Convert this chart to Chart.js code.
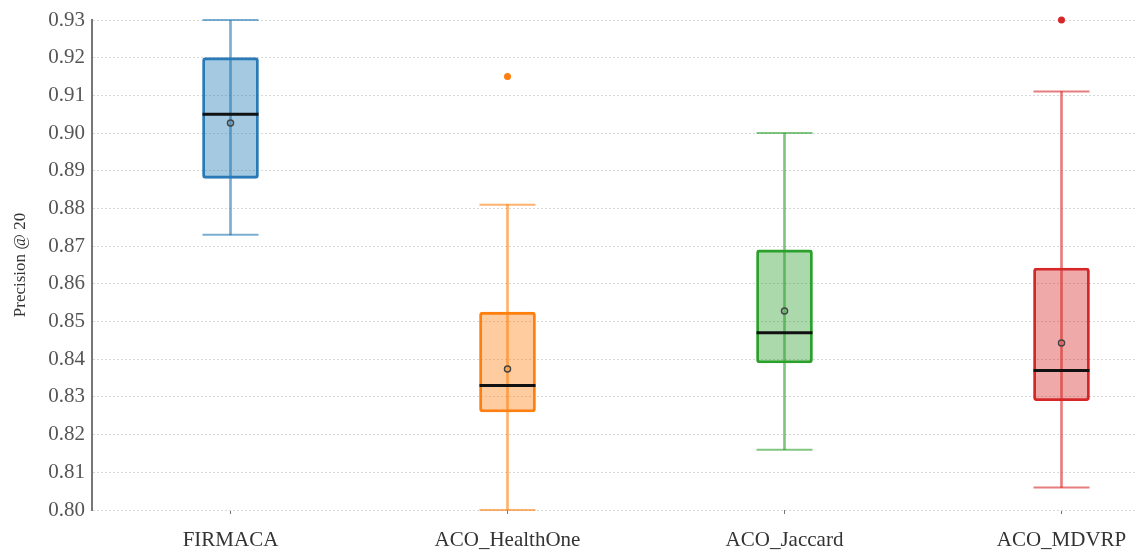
<!DOCTYPE html>
<html>
<head>
<meta charset="utf-8">
<script src="https://cdn.jsdelivr.net/npm/chart.js@4/dist/chart.umd.min.js"></script>
<style>
  html, body { margin: 0; padding: 0; background: #fff; overflow: hidden; }
  #wrap { width: 1200px; height: 558px; position: relative; }
</style>
</head>
<body>
<div id="wrap"><canvas id="boxChart"></canvas></div>
<script>
// Box plot summary per algorithm (Precision @ 20)
const categories = ['FIRMACA', 'ACO_HealthOne', 'ACO_Jaccard', 'ACO_MDVRP'];
const mins     = [0.873, 0.800, 0.816, 0.806];
const q1s      = [0.888, 0.826, 0.839, 0.829];
const medians  = [0.905, 0.833, 0.847, 0.837];
const q3s      = [0.920, 0.8525, 0.869, 0.8642];
const maxs     = [0.930, 0.881, 0.900, 0.911];
const means    = [0.9027, 0.8374, 0.8528, 0.8443];
const outliers = [null, 0.915, null, 0.930];
const yTicks   = [0.80, 0.81, 0.82, 0.83, 0.84, 0.85, 0.86, 0.87, 0.88, 0.89, 0.90, 0.91, 0.92, 0.93];

const lineColors    = ['#2c7bb8', '#ff7f0e', '#2ca02c', '#d62728'];
const fillColors    = ['rgba(31,119,180,0.4)', 'rgba(255,127,14,0.4)', 'rgba(44,160,44,0.4)', 'rgba(214,39,40,0.4)'];
const whiskerColors = ['rgba(31,119,180,0.6)', 'rgba(255,127,14,0.6)', 'rgba(44,160,44,0.6)', 'rgba(214,39,40,0.6)'];

const serif = '"Liberation Serif", "DejaVu Serif", serif';
const BOX_W = 56;

const pointSet = (data, extra) => Object.assign({
  type: 'line',
  data: data,
  showLine: false,
  clip: false,
  pointBorderWidth: 2
}, extra);

const ctx = document.getElementById('boxChart').getContext('2d');
new Chart(ctx, {
  type: 'bar',
  data: {
    labels: categories,
    datasets: [
      // whiskers
      {
        data: mins.map((m, i) => [m, maxs[i]]),
        backgroundColor: whiskerColors,
        borderWidth: 0,
        barThickness: 2,
        grouped: false,
        order: 5
      },
      // boxes
      {
        data: q1s.map((q, i) => [q, q3s[i]]),
        backgroundColor: fillColors,
        borderColor: lineColors,
        borderWidth: 2.2,
        borderRadius: 3,
        borderSkipped: false,
        barThickness: BOX_W,
        grouped: false,
        order: 4
      },
      // whisker caps
      pointSet(mins, { pointStyle: 'line', pointRadius: BOX_W / 2, pointBorderColor: whiskerColors, order: 3 }),
      pointSet(maxs, { pointStyle: 'line', pointRadius: BOX_W / 2, pointBorderColor: whiskerColors, order: 3 }),
      // medians
      pointSet(medians, { pointStyle: 'line', pointRadius: BOX_W / 2, pointBorderColor: '#111', pointBorderWidth: 3, order: 2 }),
      // means
      pointSet(means, { pointStyle: 'circle', pointRadius: 3, pointBackgroundColor: 'rgba(0,0,0,0)', pointBorderColor: '#444', pointBorderWidth: 1.5, order: 1 }),
      // outliers
      pointSet(outliers, { pointStyle: 'circle', pointRadius: 3.5, pointBackgroundColor: lineColors, pointBorderWidth: 0, order: 1 })
    ]
  },
  options: {
    responsive: true,
    maintainAspectRatio: false,
    animation: false,
    layout: { autoPadding: false, padding: { top: 20, left: 0, right: 0, bottom: 0 } },
    plugins: { legend: { display: false }, tooltip: { enabled: false } },
    scales: {
      x: {
        afterFit: (s) => { s.height = 48; },
        grid: { drawOnChartArea: false, drawTicks: true, tickLength: 4, offset: false, color: '#777' },
        border: { display: false },
        ticks: { font: { family: serif, size: 21 }, color: '#333', padding: 14 }
      },
      y: {
        min: yTicks[0],
        max: yTicks[yTicks.length - 1],
        afterFit: (s) => { s.width = 92; },
        afterBuildTicks: (s) => { s.ticks = yTicks.map(v => ({ value: v })); },
        grid: { color: '#d8d8d8', lineWidth: 1, drawTicks: false },
        border: { display: true, color: '#777', width: 2, dash: [2, 2] },
        ticks: {
          font: { family: serif, size: 21 },
          color: '#555',
          padding: 7,
          callback: (v) => Number(v).toFixed(2)
        },
        title: {
          display: true,
          text: 'Precision @ 20',
          font: { family: serif, size: 17 },
          color: '#333',
          padding: { top: 10, bottom: 4 }
        }
      }
    }
  }
});
</script>
</body>
</html>
